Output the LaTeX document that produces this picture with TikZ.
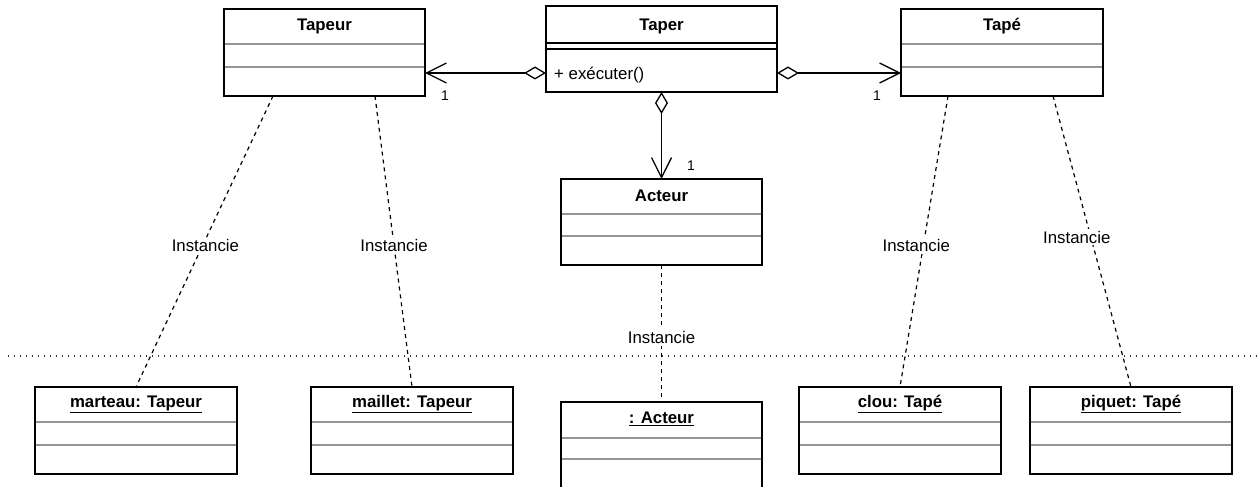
\documentclass[tikz,border=0pt]{standalone}
\usepackage{fontspec}
\setmainfont{Liberation Sans}
\usetikzlibrary{arrows.meta,calc}

\newcommand{\umlcls}[8]{% name, x, y, width, height, title, sep1, sep2
  \node[clsbox, minimum width=#4pt, minimum height=#5pt] (#1) at (#2,#3) {};
  \node[clstitle] (#1-t) at ($(#1.north)+(0,17)$) {#6};
  \draw[sepline] ($(#1.north west)+(0.7,#7)$) -- ($(#1.north east)+(-0.7,#7)$);
  \draw[sepline] ($(#1.north west)+(0.7,#8)$) -- ($(#1.north east)+(-0.7,#8)$);
}

\begin{document}
\begin{tikzpicture}[x=1pt,y=-1pt,
  clsbox/.style={draw=black, line width=1.3pt, anchor=north west, inner sep=0pt, outer sep=0pt},
  clstitle/.style={font=\fontsize{16.8}{20}\selectfont\bfseries, inner sep=0pt},
  sepline/.style={draw=black!42, line width=1.4pt},
  lbl/.style={font=\fontsize{16.8}{20}\selectfont, fill=white, inner sep=2pt},
  txt/.style={font=\fontsize{16.8}{20}\selectfont, inner sep=0pt},
  mult/.style={font=\fontsize{14}{16}\selectfont, inner sep=0pt},
  inst/.style={line width=1.2pt, dash pattern=on 4pt off 4pt},
  agg/.style={line width=1.3pt, {Diamond[open,length=22pt,width=13pt]}-{Straight Barb[length=20pt,width=20pt]}}
]
\clip (0,0) rectangle (1259,487);
\fill[white] (0,0) rectangle (1259,487);

% dotted separator between class and object levels
\draw[line width=1.2pt, black!80, dash pattern=on 1.2pt off 4.8pt] (8,356) -- (1259,356);

% classes
\umlcls{tapeur}{224}{9}{201}{87}{Tapeur}{35}{58}
\umlcls{tape}{901}{9}{202}{87}{Tapé}{35}{58}
\umlcls{acteur}{561}{179}{201}{86}{Acteur}{35}{57}

% Taper
\node[clsbox, minimum width=231pt, minimum height=86pt] (taper) at (546,6) {};
\node[clstitle] (taper-t) at ($(taper.north)+(0,20)$) {Taper};
\draw[line width=1.3pt] ($(taper.north west)+(0,37)$) -- ($(taper.north east)+(0,37)$);
\draw[line width=1.3pt] ($(taper.north west)+(0,43)$) -- ($(taper.north east)+(0,43)$);
\node[txt, anchor=west] (taper-op) at ($(taper.north west)+(8,69)$) {+ exécuter()};

% objects
\umlcls{marteau}{35}{387}{202}{87}{\underline{marteau: Tapeur}}{35}{58}
\umlcls{maillet}{311}{387}{202}{87}{\underline{maillet: Tapeur}}{35}{58}
\umlcls{acteurobj}{561}{402}{201}{87}{\underline{: Acteur}}{36}{57}
\umlcls{clou}{799}{387}{202}{87}{\underline{clou: Tapé}}{35}{58}
\umlcls{piquet}{1030}{387}{202}{87}{\underline{piquet: Tapé}}{35}{58}

% aggregations
\draw[agg] ($(taper.north west)+(0,67)$) -- ($(tapeur.north east)+(0,64)$);
\draw[agg] ($(taper.north east)+(0,67)$) -- ($(tape.north west)+(0,64)$);
\draw[agg] (taper.south) -- (acteur.north);
\node[mult] (m1) at (445,96) {1};
\node[mult] (m2) at (877,96) {1};
\node[mult] (m3) at (691,166) {1};

% instantiations
\draw[inst] ($(tapeur.south west)+(49,0)$) -- node[lbl, pos=.515, xshift=3pt] {Instancie} (marteau.north);
\draw[inst] ($(tapeur.south west)+(151,0)$) -- node[lbl, pos=.515] {Instancie} (maillet.north);
\draw[inst] (acteur.south) -- node[lbl, pos=.53] {Instancie} (acteurobj.north);
\draw[inst] ($(tape.south west)+(47,0)$) -- node[lbl, pos=.515, xshift=-7pt] {Instancie} (clou.north);
\draw[inst] ($(tape.south west)+(152,0)$) -- node[lbl, pos=.485, xshift=-14pt] {Instancie} (piquet.north);
\end{tikzpicture}
\end{document}
